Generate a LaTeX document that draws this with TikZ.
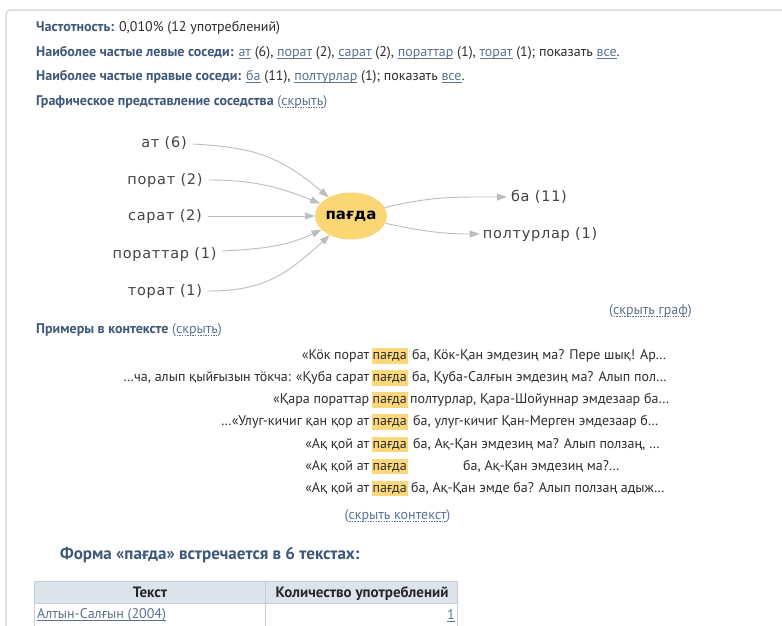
\documentclass[tikz,border=0pt]{standalone}
\usepackage{fontspec}
\setmainfont{PT Sans}
\newfontfamily\gvfont[LetterSpace=5]{DejaVu Sans}
\newfontfamily\gvbfont{DejaVu Sans Bold}
\usetikzlibrary{arrows.meta,shapes.geometric}
\definecolor{headc}{HTML}{3D5878}
\definecolor{linkc}{HTML}{5B7391}
\definecolor{txtc}{HTML}{2E2E2E}
\definecolor{gvtxt}{HTML}{444444}
\definecolor{edgec}{HTML}{BDBDBD}
\definecolor{hlc}{HTML}{FCD87A}
\definecolor{ellc}{HTML}{FAD674}
\definecolor{framec}{HTML}{DADADA}
\definecolor{thc}{HTML}{DDE3EB}
\definecolor{tbc}{HTML}{C9CED6}
\newcommand\lnk[1]{{\leavevmode\color{linkc}\setbox0=\hbox{#1}\rlap{\copy0}\raisebox{-2.4pt}{\rule{\wd0}{0.6pt}}}}
\newcommand\dnd[1]{{\leavevmode\color{linkc}\setbox0=\hbox{#1}\rlap{\copy0}\raisebox{-2.8pt}{\hbox to \wd0{\xleaders\hbox to 2.6pt{\hss\rule{1.4pt}{0.6pt}\hss}\hfill}}}}
\newcommand\hd[1]{\textbf{\color{headc}#1}}
\tikzset{
  txt/.style={anchor=base west, inner sep=0pt, text=txtc, font=\fontsize{14}{16}\selectfont},
  txtr/.style={txt, anchor=base east},
  txtc/.style={txt, anchor=base},
  hl/.style={txt, fill=hlc, inner xsep=1pt, inner ysep=0pt, text height=11.5pt, text depth=4pt},
  gvlab/.style={inner xsep=6pt, inner ysep=2pt, text=gvtxt, font=\gvfont\fontsize{14.5}{17}\selectfont},
  gvedge/.style={draw=edgec, line width=0.9pt, -{Triangle[length=10pt,width=7pt]}},
  tbl/.style={draw=tbc, line width=0.8pt},
  thtxt/.style={txtc, font=\bfseries\fontsize{15}{17}\selectfont, text=black!85}
}
\begin{document}
\begin{tikzpicture}[x=1pt,y=-1pt]
\useasboundingbox (0,0) rectangle (782,625);
\fill[white] (0,0) rectangle (782,625);
\draw[framec, line width=1.5pt, rounded corners=4pt] (6,627) -- (6,10) -- (784,10);

% header lines
\node[txt] (l1) at (36,31) {\hd{Частотность:} 0,010\% (12 употреблений)};
\node[txt] (l2) at (36,56) {\hd{Наиболее частые левые соседи:} \lnk{ат} (6), \lnk{порат} (2), \lnk{сарат} (2), \lnk{пораттар} (1), \lnk{торат} (1); показать \lnk{все}.};
\node[txt] (l3) at (36,80.5) {\hd{Наиболее частые правые соседи:} \lnk{ба} (11), \lnk{полтурлар} (1); показать \lnk{все}.};
\node[txt] (l4) at (36,105) {\hd{Графическое представление соседства} {\color{linkc}(\dnd{скрыть})}};

% graph
\node[ellipse, fill=ellc, minimum width=71pt, minimum height=47pt, inner sep=0pt,
      font=\gvbfont\fontsize{15}{17}\selectfont] (c) at (351,216) {пағда};
\node[gvlab] (lat) at (164,142.5) {ат (6)};
\node[gvlab] (lpor) at (165,180) {порат (2)};
\node[gvlab] (lsar) at (165,216) {сарат (2)};
\node[gvlab] (lport) at (164.5,254) {пораттар (1)};
\node[gvlab] (ltor) at (165,291) {торат (1)};
\node[gvlab, inner xsep=4pt] (rba) at (539,197) {ба (11)};
\node[gvlab, inner xsep=3pt] (rpol) at (540,234) {полтурлар (1)};
\draw[gvedge] (lat) to[out=-3, in=140, looseness=1.1] (c);
\draw[gvedge] (lpor) to[out=0, in=158] (c);
\draw[gvedge] (lsar) -- (c);
\draw[gvedge] (lport) to[out=3, in=205] (c);
\draw[gvedge] (ltor) to[out=0, in=222, looseness=1.1] (c);
\draw[gvedge] (c) to[out=14, in=180] (rba);
\draw[gvedge] (c) to[out=-12, in=180] (rpol);

\node[txtc] (hidegraph) at (650.5,314) {{\color{linkc}(\dnd{скрыть граф})}};

% context
\node[txt] (l5) at (36,333) {\hd{Примеры в контексте} {\color{linkc}(\dnd{скрыть})}};

\node[txtr] (cl1) at (369.5,359.5) {«Кӧк порат};
\node[hl] (ch1) at (371.5,359.5) {пағда};
\node[txt] (cr1) at (412,359.5) {ба, Кӧк-Қан эмдезиң ма? Пере шық! Ар…};

\node[txtr] (cl2) at (369.5,381.65) {…ча, алып қыйғызын тӧкча: «Қуба сарат};
\node[hl] (ch2) at (371.5,381.65) {пағда};
\node[txt] (cr2) at (412,381.65) {ба, Қуба-Салғын эмдезиң ма? Алып пол…};

\node[txtr] (cl3) at (369.5,403.8) {«Қара пораттар};
\node[hl] (ch3) at (371.5,403.8) {пағда};
\node[txt] (cr3) at (410,403.8) {полтурлар, Қара-Шойуннар эмдезаар ба…};

\node[txtr] (cl4) at (369.5,425.95) {…«Улуг-кичиг қан қор ат};
\node[hl] (ch4) at (371.5,425.95) {пағда};
\node[txt] (cr4) at (413,425.95) {ба, улуг-кичиг Қан-Мерген эмдезаар б…};

\node[txtr] (cl5) at (369.5,448.1) {«Ақ қой ат};
\node[hl] (ch5) at (371.5,448.1) {пағда};
\node[txt] (cr5) at (413,448.1) {ба, Ақ-Қан эмдезиң ма? Алып ползаң, …};

\node[txtr] (cl6) at (369.5,470.25) {«Ақ қой ат};
\node[hl] (ch6) at (371.5,470.25) {пағда};
\node[txt] (cr6) at (463,470.25) {ба, Ақ-Қан эмдезиң ма?…};

\node[txtr] (cl7) at (369.5,492.4) {«Ақ қой ат};
\node[hl] (ch7) at (371.5,492.4) {пағда};
\node[txt] (cr7) at (411,492.4) {ба, Ақ-Қан эмде ба? Алып ползаң адыж…};

\node[txtc] (hidectx) at (397.5,519) {{\color{linkc}(\dnd{скрыть контекст})}};

% form heading
\node[txt, font=\bfseries\fontsize{17}{19}\selectfont, text=headc] (form) at (60,559.5) {Форма «пағда» встречается в 6 текстах:};

% table
\fill[thc] (34.5,581.5) rectangle (457.5,603.5);
\draw[tbl] (34.5,627) -- (34.5,581.5) -- (457.5,581.5) -- (457.5,627);
\draw[tbl] (265.5,581.5) -- (265.5,627);
\draw[tbl] (34.5,603.5) -- (457.5,603.5);
\node[thtxt] (th1) at (150,597) {Текст};
\node[thtxt] (th2) at (362,597) {Количество употреблений};
\node[txt] (r1a) at (37,618) {\lnk{Алтын-Салғын (2004)}};
\node[txtr] (r1b) at (455,619.5) {\lnk{1}};
\end{tikzpicture}
\end{document}
